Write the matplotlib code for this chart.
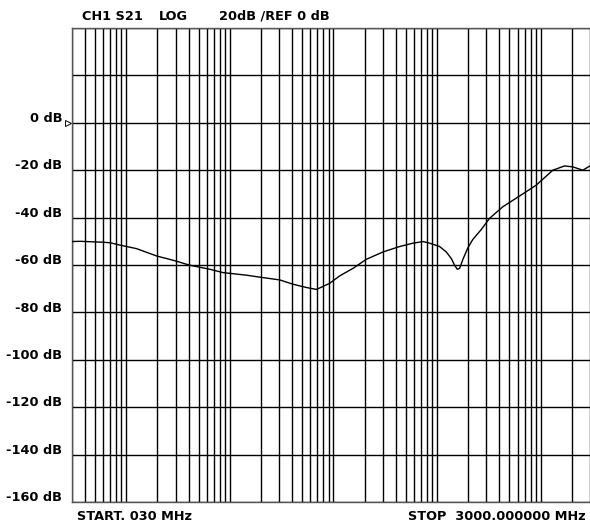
import matplotlib
matplotlib.use("Agg")
import matplotlib.pyplot as plt
from matplotlib.ticker import LogLocator, NullFormatter

# S21 trace (frequency in MHz, magnitude in dB)
freq_mhz = [0.03, 0.0358, 0.0597, 0.0698, 0.0871, 0.126, 0.197, 0.284, 0.412,
            0.642, 0.858, 1.45, 2.08, 3.04, 4.06, 5.5, 6.87, 7.9, 9.23, 11.5,
            15.5, 20.8, 30.1, 43.7, 58.6, 73.3, 85, 106, 123, 137.6, 148, 157,
            165.5, 178, 199, 222, 268, 322, 433, 627, 908, 1313, 1703, 2047,
            2558, 2967]
s21_db = [-50.1, -50.0, -50.4, -50.6, -51.6, -53.1, -56.2, -58.0, -60.1,
          -61.8, -63.2, -64.3, -65.3, -66.3, -68.1, -69.5, -70.3, -69.1, -67.7, -64.6,
          -61.4, -57.6, -54.5, -52.2, -50.8, -50.1, -50.8, -52.2, -54.5, -57.3, -60.1, -61.8,
          -61.4, -57.6, -52.7, -49.2, -45.0, -40.3, -35.4, -30.9, -26.3, -20.0, -18.2, -18.6,
          -20.0, -18.3]

# scale labels on the left
db_levels = [0, -20, -40, -60, -80, -100, -120, -140, -160]
db_labels = ["0 dB", "-20 dB", "-40 dB", "-60 dB", "-80 dB",
             "-100 dB", "-120 dB", "-140 dB", "-160 dB"]

start_mhz, stop_mhz = 0.03, 3000
top_db, bottom_db = 40, -160

plt.rcParams["font.family"] = ["DejaVu Sans"]
plt.rcParams["font.weight"] = "bold"

fig = plt.figure(figsize=(5.9, 5.22), dpi=100)
ax = fig.add_axes([72 / 590, 20 / 522, 518 / 590, 474 / 522])

ax.plot(freq_mhz, s21_db, color="black", linewidth=1.0, zorder=3)

ax.set_xscale("log")
ax.set_xlim(start_mhz, stop_mhz)
ax.set_ylim(bottom_db, top_db)

# log grid: one line per 1..9 step of every decade
ax.xaxis.set_major_locator(LogLocator(base=10, subs=range(1, 10)))
ax.xaxis.set_minor_locator(LogLocator(base=10, subs=range(1, 10)))
ax.xaxis.set_major_formatter(NullFormatter())
ax.xaxis.set_minor_formatter(NullFormatter())
ax.set_yticks(range(bottom_db, top_db + 1, 20))
ax.set_yticklabels([])
ax.tick_params(which="both", length=0)
ax.grid(True, which="both", axis="both", color="black", linewidth=1.0)

for side in ["left", "top", "bottom"]:
    ax.spines[side].set_color("#555555")
    ax.spines[side].set_linewidth(1.0)
ax.spines["right"].set_visible(False)

# dB labels sit a little above their grid lines
for lvl, lab in zip(db_levels, db_labels):
    ax.text(-0.019, lvl + 1.8, lab, transform=ax.get_yaxis_transform(),
            ha="right", va="center", fontsize=9.3, fontweight="bold")

# reference marker at 0 dB
ax.plot([-0.008], [0], marker=">", markersize=4, markerfacecolor="white",
        markeredgecolor="black", markeredgewidth=0.7,
        transform=ax.get_yaxis_transform(), clip_on=False)

# header and footer annotations
fig.text(82 / 590, 1 - 16 / 522, "CH1 S21", ha="left", va="center", fontsize=9.3, fontweight="bold")
fig.text(159 / 590, 1 - 16 / 522, "LOG", ha="left", va="center", fontsize=9.3, fontweight="bold")
fig.text(219 / 590, 1 - 16 / 522, "20dB /REF 0 dB", ha="left", va="center", fontsize=9.3, fontweight="bold")
fig.text(77 / 590, 1 - 517 / 522, "START. 030 MHz", ha="left", va="center", fontsize=9.3, fontweight="bold")
fig.text(408 / 590, 1 - 517 / 522, "STOP  3000.000000 MHz", ha="left", va="center", fontsize=9.3, fontweight="bold")

fig.savefig("out.png", dpi=100)
